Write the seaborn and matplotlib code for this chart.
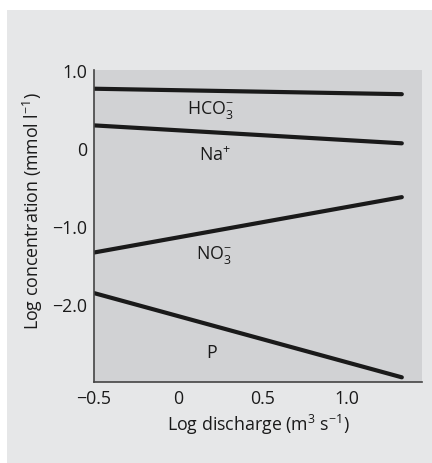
import pandas as pd
import matplotlib.pyplot as plt
import seaborn as sns
from matplotlib.patches import Rectangle

# Values
log_discharge = [-0.5, 1.33]
hco3 = [0.76, 0.69]
sodium = [0.29, 0.06]
nitrate = [-1.34, -0.63]
phosphorus = [-1.86, -2.94]

ions = ["HCO3", "Na", "NO3", "P"]
ion_labels = [r"HCO$_3^{-}$", r"Na$^{+}$", r"NO$_3^{-}$", "P"]
label_x = [0.19, 0.22, 0.21, 0.20]
label_y = [0.50, -0.08, -1.36, -2.61]

x_ticks = [-0.5, 0, 0.5, 1.0]
x_tick_labels = ["\u22120.5", "0", "0.5", "1.0"]
y_ticks = [1.0, 0, -1.0, -2.0]
y_tick_labels = ["1.0", "0", "\u22121.0", "\u22122.0"]

rows = []
for ion, vals in zip(ions, [hco3, sodium, nitrate, phosphorus]):
    for x, y in zip(log_discharge, vals):
        rows.append({"ion": ion, "discharge": x, "conc": y})
df = pd.DataFrame(rows)

sns.set_style("white")
plt.rcParams["font.family"] = ["Open Sans", "DejaVu Sans"]
plt.rcParams["mathtext.fontset"] = "custom"
plt.rcParams["mathtext.rm"] = "Open Sans"
plt.rcParams["mathtext.it"] = "Open Sans:italic"
plt.rcParams["mathtext.default"] = "regular"

fs = 12.8

fig = plt.figure(figsize=(4.32, 4.64), dpi=100)
fig.patch.set_facecolor("white")
# light grey panel behind the whole figure, with a thin white margin top/left
fig.patches.append(Rectangle((7 / 432, 0), 1, 1 - 11 / 464, transform=fig.transFigure,
                             facecolor="#e6e7e8", edgecolor="none", zorder=-10))

ax = fig.add_axes([94 / 432, 1 - 383 / 464, 328 / 432, 312 / 464])
ax.set_facecolor("#d1d2d4")

sns.lineplot(data=df, x="discharge", y="conc", hue="ion",
             palette=["#1a1a1a"] * 4, linewidth=3.0, legend=False, ax=ax)

for lab, lx, ly in zip(ion_labels, label_x, label_y):
    ax.text(lx, ly, lab, ha="center", va="center", fontsize=fs, color="#1a1a1a")

ax.set_xlim(-0.5, 1.45)
ax.set_ylim(-3.0, 1.0)
ax.set_xticks(x_ticks)
ax.set_xticklabels(x_tick_labels)
ax.set_yticks(y_ticks)
ax.set_yticklabels(y_tick_labels)
ax.tick_params(axis="both", direction="in", length=8, width=1, color="#444444",
               labelsize=fs, labelcolor="#1a1a1a", pad=5)

for side in ["top", "right"]:
    ax.spines[side].set_visible(False)
for side in ["left", "bottom"]:
    ax.spines[side].set_color("#444444")
    ax.spines[side].set_linewidth(1.2)

ax.set_xlabel(r"Log discharge (m$^3$ s$^{-1}$)", fontsize=fs, color="#1a1a1a")
ax.set_ylabel(r"Log concentration (mmol l$^{-1}$)", fontsize=fs, color="#1a1a1a")
ax.xaxis.set_label_coords(0.5, -0.096)
ax.yaxis.set_label_coords(-0.15, 0.55)

plt.savefig("out.png", dpi=100)
